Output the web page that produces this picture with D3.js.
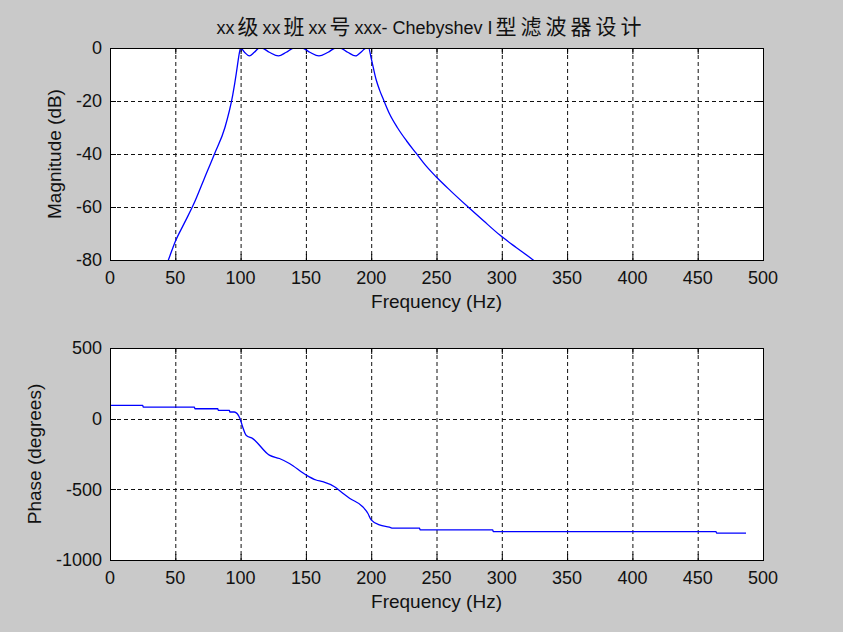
<!DOCTYPE html>
<html>
<head>
<meta charset="utf-8">
<script src="https://cdn.jsdelivr.net/npm/d3@7"></script>
<style>
  html, body { margin: 0; padding: 0; background: #c9c9c9; }
  svg { display: block; }
  text { font-family: "Liberation Sans", Arial, "Noto Sans CJK SC", sans-serif; fill: #111; }
</style>
</head>
<body>
<svg id="chart" width="843" height="632"></svg>
<script>
// ---------------- data ----------------
const titleParts = [
  {t: "xx", cjk: false}, {t: "级", cjk: true},
  {t: "xx", cjk: false}, {t: "班", cjk: true},
  {t: "xx", cjk: false}, {t: "号", cjk: true},
  {t: "xxx- Chebyshev I", cjk: false}, {t: "型滤波器设计", cjk: true}
];
const xLabel = "Frequency (Hz)";
const magLabel = "Magnitude (dB)";
const phaseLabel = "Phase (degrees)";

const freqTicks = [0, 50, 100, 150, 200, 250, 300, 350, 400, 450, 500];
const magTicks = [0, -20, -40, -60, -80];
const phaseTicks = [500, 0, -500, -1000];

// magnitude response (Hz, dB)
const magFreq = [40, 44.7, 50, 57, 64, 72, 80, 88, 94, 96.7, 97.8, 99.2, 100,
  103, 106.7, 110.5, 114.4, 116, 122, 129, 135, 141, 147, 153, 160, 167, 173, 176,
  182, 188, 193, 196, 198, 200, 203.8, 206.5, 209.5, 214, 220, 227, 234.4,
  242, 249.7, 261, 274, 286, 298.5, 311, 324, 330];
const magDb = [-86, -80, -73, -66, -59, -49.5, -40, -30, -17.7, -9.6, -5.8, -1.5, 0,
  -1.6, -3, -1.6, 0, 0, -1.6, -3, -1.6, 0, 0, -1.6, -3, -1.6, 0, 0,
  -1.6, -3, -1.2, 0, 0, -3.9, -12, -16, -19.6, -24.8, -30, -35, -39.7,
  -44.5, -48.6, -54, -59.9, -65.2, -70.6, -75.3, -80, -82.5];

// phase response (Hz, degrees)
const phaseFreq = [0, 25, 25.5, 64.6, 65, 82.5, 83, 91.4, 91.8, 95.2, 99.6,
  101.6, 104.2, 109.3, 122, 129.7, 137.4, 150.2, 157.8, 162.9, 171.9, 178.3,
  183.4, 193.5, 197.4, 200, 206.3, 214, 216.5, 237, 237.5, 293, 293.5, 464, 464.5, 487];
const phaseDeg = [94, 94, 82, 82, 70, 70, 58, 58, 47, 47, 0,
  -59, -117, -141, -258, -282, -317, -399, -434, -446, -482, -528,
  -563, -623, -669, -716, -751, -768, -775, -775, -787, -787, -799, -799, -810, -810];

// ---------------- drawing ----------------
const svg = d3.select("#chart");
const L = 110, R = 763;
const panels = [
  {top: 48, bottom: 260, domain: [-80, 0], ticks: magTicks, label: magLabel, labelX: 54,
   xs: magFreq, ys: magDb},
  {top: 348, bottom: 560, domain: [-1000, 500], ticks: phaseTicks, label: phaseLabel, labelX: 34,
   xs: phaseFreq, ys: phaseDeg}
];

const x = d3.scaleLinear().domain([0, 500]).range([L, R]);

panels.forEach((p, i) => {
  const y = d3.scaleLinear().domain(p.domain).range([p.bottom, p.top]);
  const g = svg.append("g");

  g.append("rect").attr("x", L).attr("y", p.top).attr("width", R - L).attr("height", p.bottom - p.top)
    .attr("fill", "#fff");

  // grid
  g.append("g").selectAll("line").data(freqTicks).join("line")
    .attr("x1", d => x(d) + 0.5).attr("x2", d => x(d) + 0.5)
    .attr("y1", p.top).attr("y2", p.bottom)
    .attr("stroke", "#111").attr("stroke-width", 1).attr("stroke-dasharray", "4,3");
  g.append("g").selectAll("line").data(p.ticks).join("line")
    .attr("y1", d => Math.round(y(d)) + 0.5).attr("y2", d => Math.round(y(d)) + 0.5)
    .attr("x1", L).attr("x2", R)
    .attr("stroke", "#111").attr("stroke-width", 1).attr("stroke-dasharray", "4,3");

  // ticks (inward, all four sides)
  const tl = 6;
  const tk = g.append("g").attr("stroke", "#000").attr("stroke-width", 1);
  freqTicks.forEach(d => {
    const xx = x(d) + 0.5;
    tk.append("line").attr("x1", xx).attr("x2", xx).attr("y1", p.bottom).attr("y2", p.bottom - tl);
    tk.append("line").attr("x1", xx).attr("x2", xx).attr("y1", p.top).attr("y2", p.top + tl);
  });
  p.ticks.forEach(d => {
    const yy = Math.round(y(d)) + 0.5;
    tk.append("line").attr("y1", yy).attr("y2", yy).attr("x1", L).attr("x2", L + tl);
    tk.append("line").attr("y1", yy).attr("y2", yy).attr("x1", R).attr("x2", R - tl);
  });

  // data line
  const cid = "clip" + i;
  svg.append("clipPath").attr("id", cid).append("rect")
    .attr("x", L).attr("y", p.top).attr("width", R - L).attr("height", p.bottom - p.top);
  const pts = p.xs.map((f, k) => [f, p.ys[k]]);
  g.append("path").datum(pts)
    .attr("clip-path", `url(#${cid})`)
    .attr("d", d3.line().curve(d3.curveMonotoneX).x(d => x(d[0])).y(d => y(d[1])))
    .attr("fill", "none").attr("stroke", "#0000ff").attr("stroke-width", 1.3);

  // box
  g.append("rect").attr("x", L + 0.5).attr("y", p.top + 0.5).attr("width", R - L).attr("height", p.bottom - p.top)
    .attr("fill", "none").attr("stroke", "#000").attr("stroke-width", 1);

  // tick labels
  g.append("g").selectAll("text").data(freqTicks).join("text")
    .attr("x", d => x(d)).attr("y", p.bottom + 24)
    .attr("text-anchor", "middle").attr("font-size", 18).text(d => d);
  g.append("g").selectAll("text").data(p.ticks).join("text")
    .attr("x", L - 8).attr("y", d => y(d)).attr("dy", "0.36em")
    .attr("text-anchor", "end").attr("font-size", 18).text(d => d);

  // axis labels
  g.append("text").attr("x", (L + R) / 2).attr("y", p.bottom + 48)
    .attr("text-anchor", "middle").attr("font-size", 19).text(xLabel);
  g.append("text").attr("transform", `translate(${p.labelX},${(p.top + p.bottom) / 2}) rotate(-90)`)
    .attr("text-anchor", "middle").attr("dy", "0.36em").attr("font-size", 19).text(p.label);
});

// title
const title = svg.append("text").attr("x", 431).attr("y", 34).attr("text-anchor", "middle");
titleParts.forEach(part => {
  const ts = title.append("tspan").text(part.t);
  if (part.cjk) {
    ts.attr("font-size", 21).attr("letter-spacing", 4).attr("dx", 3)
      .style("font-family", "'Noto Sans CJK SC', sans-serif");
  } else {
    ts.attr("font-size", 18).attr("dx", 0);
  }
});
</script>
</body>
</html>
